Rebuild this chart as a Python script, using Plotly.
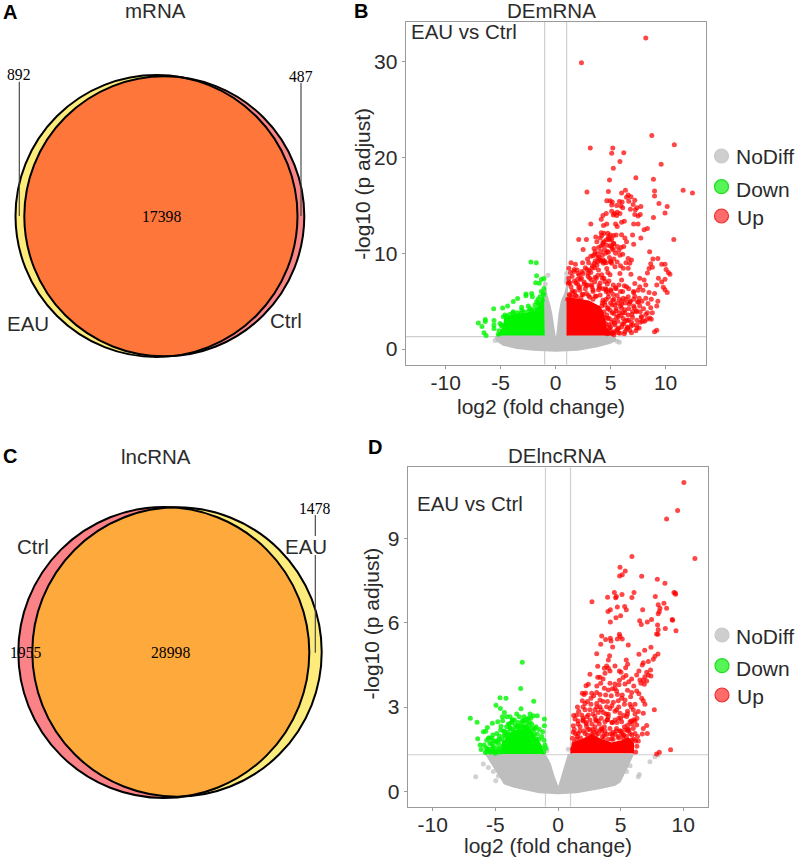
import numpy as np
import plotly.graph_objects as go

W, H = 796, 858

# venn counts
mrna_counts = ["892", "17398", "487"]
lncrna_counts = ["1955", "28998", "1478"]

# panel B, DEmRNA: log2 fold change / -log10 p adjust
b_grey_area_x = [-5.5, -5.3, -1.06, -1.06, -0.95, -0.8, -0.55, -0.37, -0.15, 0.03, 0.18, 0.33, 0.54, 0.85, 1.0, 1.06, 1.06, 5.3, 5.5, 4.9, 3.7, 2.0, 0.0, -2.0, -3.5, -4.76, -5.4]
b_grey_area_y = [1.1, 1.4, 1.4, 5.5, 6.5, 5.6, 4.6, 3.7, 2.0, 0.7, 2.0, 3.7, 5.0, 5.8, 6.5, 6.5, 1.4, 1.4, 0.9, 0.6, 0.24, -0.1, -0.2, -0.1, 0.07, 0.42, 0.9]
b_grey_x = [-0.7, 1.0, 1.0, 5.6, 5.8, 5.2, -5.5, 0.98, -0.95]
b_grey_y = [7.7, 7.4, 7.9, 0.8, 0.7, 1.1, 0.9, 7.0, 6.8]

b_green_area_x = [-5.3, -4.76, -4.61, -3.85, -2.64, -1.88, -1.58, -1.12, -1.06]
b_green_area_y = [1.42, 2.15, 3.2, 3.55, 3.72, 3.9, 4.4, 5.46, 1.42]
b_green_x = [-2.25, -1.76, -1.73, -1.06, -1.3, -1.82, -1.49, -1.06, -1.3, -1.12, -1.43, -2.18, -2.12, -2.7, -2.7, -3.46, -3.85, -4.37, -4.82, -5.64, -3.09, -3.09, -3.85, -2.49, -2.34, -1.88, -1.73, -1.58, -2.03, -4.61, -4.76, -6.4, -6.4, -7.03, -5.61, -6.7, -5.61, -5.61, -5.06, -4.91, -6.52, -6.33, -4.76, -5.21,
             -4.5, -4.2, -3.9, -3.5, -3.2, -2.9, -2.5, -2.2, -1.7, -1.45, -1.2, -4.9, -5.15, -1.1, -1.6]
b_green_y = [9.1, 9.0, 7.66, 7.38, 7.27, 6.93, 6.86, 6.33, 6.0, 5.64, 5.46, 5.81, 5.46, 5.74, 5.57, 5.29, 4.97, 4.49, 4.28, 4.21, 4.35, 4.07, 3.9, 4.49, 4.24, 4.59, 4.94, 4.77, 4.14, 3.55, 3.37, 3.09, 2.88, 2.71, 2.99, 2.36, 2.5, 2.15, 2.67, 2.4, 1.7, 1.42, 1.98, 1.53,
             3.4, 3.6, 3.75, 3.8, 3.7, 3.9, 3.95, 4.0, 4.2, 4.7, 5.1, 2.5, 1.9, 5.8, 5.2]

b_red_area_x = [1.06, 1.06, 2.0, 3.0, 4.0, 4.3, 4.6, 5.2]
b_red_area_y = [1.42, 5.3, 5.2, 5.0, 4.4, 3.8, 2.2, 1.42]
b_red_x = [8.2, 2.35, 8.75, 10.8, 3.15, 5.2, 5.1, 6.2, 5.85, 9.6, 5.25, 7.3, 8.9, 4.9, 2.85, 4.8, 6.0, 6.35, 9.0, 9.0, 11.6, 12.45, 6.6, 6.45, 6.85, 7.2, 6.65, 7.05, 4.65, 4.95, 5.15, 5.1, 5.8, 6.05, 5.95, 6.1, 5.55, 9.4, 10.15, 7.75, 7.4, 7.25, 6.8, 9.95, 8.9, 7.7, 7.5, 7.2, 5.1, 5.35, 5.6, 5.85, 5.55, 5.25, 4.6, 4.3, 4.15, 3.2, 4.35, 4.65, 5.45, 5.6, 6.0, 6.25, 7.1, 7.5, 8.35, 8.05, 4.15, 4.4, 4.2, 4.75, 4.95, 5.25, 5.5, 6.0, 7.0, 3.65, 6.3, 2.1, 2.8, 10.75, 4.8, 5.1, 7.75,
           2.5, 3.5, 4.15, 4.65, 5.25, 4.95, 6.45, 7.1, 5.95, 5.25, 4.25, 3.4, 4.55, 4.9, 5.85, 6.6, 6.9, 6.75, 8.55, 8.85, 9.3, 9.65, 9.95, 8.65, 8.5, 8.8, 10.05, 10.25, 10.4, 8.35, 1.4, 1.8, 3.0, 1.2, 1.65, 1.95, 3.75, 3.9, 4.35, 4.65, 5.1, 5.4, 6.15, 6.6, 4.05, 3.3, 4.2, 4.95, 5.85, 6.85, 7.65, 8.05, 9.35, 9.95, 2.35, 2.25, 1.2, 1.15, 1.4, 2.95, 3.1, 3.55, 4.5, 5.25, 6.0, 6.45, 7.2, 7.65, 8.2, 9.2, 9.65, 9.8, 9.95, 10.15, 9.0, 8.5, 7.95, 7.5, 7.1, 6.6, 6.15, 5.8, 5.25, 4.8, 4.05, 3.4, 2.8, 2.2, 1.75,
           8.4, 9.2, 7.65, 7.1, 8.35, 8.8, 8.55, 7.7, 7.35, 6.9, 6.6, 6.0, 5.4, 4.95, 5.55, 6.15, 5.1, 4.65, 4.5, 6.75, 6.3, 5.85, 5.55, 9.2, 9.0, 4.05, 4.95, 5.25,
           1.3, 1.6, 1.9, 2.2, 2.5, 2.8, 3.1, 3.4, 3.7, 4.0, 4.3, 4.6, 1.2, 1.5, 1.85, 2.15, 2.6, 2.95, 3.25, 3.6, 3.95, 4.25, 4.55, 4.85, 1.35, 1.7, 2.05, 2.4, 2.7, 3.05, 3.35, 3.8, 4.1, 4.4, 4.75, 2.0, 2.45, 2.9, 3.2, 3.55, 3.85, 4.45, 5.0, 3.6, 3.9, 4.3, 4.7, 5.1, 3.75, 4.05, 4.4, 4.8,
           4.45, 4.8, 5.2, 5.6, 6.0, 6.4, 6.8, 7.2, 7.6, 4.6, 5.0, 5.35, 5.75, 6.2, 6.55, 7.0, 7.4, 7.9, 8.3, 4.9, 5.3, 5.7, 6.1, 6.5, 6.95, 7.35, 7.8, 8.2, 8.7, 4.75, 5.15, 5.5, 5.9, 6.3, 6.7, 7.15, 7.55, 4.5, 4.9, 5.3, 5.65, 6.05, 6.45, 6.85, 5.05, 5.45, 5.9, 6.25, 6.65, 7.1,
           1.25, 1.5, 1.8, 2.1, 2.4, 2.7, 3.0, 3.3, 3.6, 3.9, 1.3, 1.7, 2.0, 2.6, 2.9, 3.25, 3.7, 4.05, 4.3, 4.6, 2.5, 2.85, 3.2, 3.55, 3.85, 4.4, 4.7, 5.0, 5.5, 5.75, 6.1,
           3.6, 3.95, 4.3, 4.6, 5.0, 5.3, 5.6, 5.9, 4.1, 4.45, 4.8, 5.15, 5.45, 5.75, 6.1, 6.4, 4.3, 4.6, 4.95, 5.3, 5.6, 3.8, 3.5, 6.2,
           4.5, 4.85, 5.1, 5.4, 5.7, 6.0, 6.25, 6.55, 6.9, 7.3, 7.6, 4.4, 4.75, 5.3, 5.65, 5.95, 6.3, 6.65, 7.0, 7.4, 7.8, 8.1, 4.4, 4.75, 5.15, 5.5, 5.8, 6.3, 6.65, 7.0, 7.35, 7.7, 8.0, 8.65, 4.25, 4.6, 5.0, 5.3, 5.6, 6.0, 6.35, 6.75, 7.1, 7.45, 7.85, 8.2, 8.7, 9.3,
           4.2, 3.4, 2.3, 1.5, 4.5, 4.4, 4.7, 5.3, 1.1]
b_red_y = [32.5, 29.9, 22.3, 21.35, 21.0, 21.0, 20.45, 20.5, 19.6, 19.3, 18.9, 17.9, 17.75, 17.65, 16.4, 16.45, 16.3, 16.6, 16.5, 16.0, 16.6, 16.3, 16.1, 15.85, 15.9, 15.55, 15.45, 15.1, 15.5, 15.5, 15.35, 15.05, 15.4, 15.35, 14.95, 14.75, 15.0, 15.2, 14.9, 14.9, 14.75, 14.55, 14.6, 14.2, 13.75, 14.05, 13.9, 14.05, 14.4, 14.15, 14.3, 14.15, 13.95, 14.0, 14.15, 13.95, 13.55, 13.05, 12.9, 13.05, 13.05, 12.8, 13.25, 13.35, 13.05, 13.05, 12.6, 12.45, 12.15, 12.1, 11.85, 12.1, 11.9, 11.85, 11.9, 11.95, 11.9, 11.7, 11.6, 11.45, 11.45, 11.45, 11.5, 11.5, 11.6,
           10.4, 10.5, 10.75, 10.85, 11.05, 11.4, 11.2, 10.95, 10.6, 10.35, 9.8, 9.75, 10.0, 9.55, 9.8, 9.45, 9.3, 8.95, 10.15, 9.4, 9.45, 8.85, 8.85, 8.9, 8.4, 8.55, 8.3, 8.0, 7.8, 7.95, 9.0, 8.85, 9.0, 8.45, 8.1, 8.25, 8.75, 8.25, 8.95, 8.4, 8.95, 8.6, 8.45, 8.45, 9.3, 8.45, 7.75, 7.75, 7.9, 7.8, 7.4, 7.2, 7.4, 7.3, 7.4, 7.25, 7.4, 6.85, 6.5, 7.9, 7.4, 7.0, 7.05, 6.7, 7.2, 6.5, 6.85, 6.5, 6.7, 6.7, 7.0, 6.45, 6.2, 5.9, 5.8, 5.9, 6.15, 6.15, 5.9, 5.45, 5.3, 5.2, 5.7, 5.8, 5.65, 6.0, 5.8, 6.15, 6.0,
           4.75, 4.5, 4.5, 4.5, 3.8, 3.8, 3.25, 2.8, 2.5, 2.8, 3.55, 4.25, 4.6, 4.05, 3.35, 3.2, 2.8, 3.55, 4.6, 1.95, 1.8, 1.65, 1.95, 1.95, 1.8, 2.3, 1.95, 1.65,
           5.6, 5.9, 5.5, 6.5, 5.7, 6.6, 5.4, 6.2, 5.5, 6.4, 5.1, 6.0, 7.0, 7.6, 6.9, 7.7, 6.8, 7.6, 6.7, 7.5, 6.6, 7.4, 6.3, 7.1, 8.0, 8.3, 7.9, 8.1, 8.5, 8.2, 8.7, 9.1, 9.2, 9.1, 8.0, 7.3, 9.0, 9.4, 9.7, 9.9, 9.5, 9.2, 9.2, 10.2, 10.6, 10.9, 10.2, 10.7, 11.2, 11.6, 11.2, 11.7,
           4.9, 5.4, 5.1, 5.6, 4.7, 5.2, 5.0, 5.5, 5.3, 2.6, 2.3, 2.7, 2.2, 2.6, 2.3, 2.5, 2.2, 2.9, 3.1, 3.2, 3.7, 3.4, 3.8, 3.0, 3.6, 3.9, 3.3, 3.6, 3.1, 4.2, 4.6, 4.0, 4.5, 4.1, 4.7, 4.3, 4.9, 2.0, 2.2, 1.8, 2.1, 2.6, 2.1, 2.4, 6.1, 6.4, 6.0, 6.6, 6.3, 6.0,
           5.7, 6.1, 5.6, 6.4, 5.7, 6.3, 5.6, 6.5, 5.5, 6.2, 6.9, 7.1, 6.8, 7.0, 6.7, 7.2, 7.4, 6.9, 6.3, 6.2, 7.9, 8.3, 8.0, 8.5, 7.7, 7.4, 6.8, 6.2, 6.3, 6.7, 6.0,
           9.2, 9.6, 9.3, 9.0, 9.1, 9.4, 9.1, 8.7, 10.2, 10.4, 10.1, 10.5, 10.0, 10.3, 9.9, 9.0, 11.1, 11.4, 10.8, 11.0, 10.7, 9.9, 8.9, 10.7,
           1.7, 2.5, 1.7, 2.5, 1.7, 2.3, 1.6, 2.2, 1.7, 1.9, 2.2, 2.9, 3.2, 3.0, 2.9, 3.5, 2.9, 3.0, 3.3, 3.0, 3.4, 2.9, 3.9, 4.3, 3.8, 4.2, 3.8, 3.8, 4.2, 3.9, 4.0, 3.9, 4.2, 4.3, 4.8, 5.2, 4.8, 5.2, 4.8, 5.0, 4.8, 4.9, 5.2, 4.9, 5.0, 5.3, 5.2, 5.0,
           4.5, 5.2, 5.3, 5.4, 3.3, 2.4, 1.6, 1.5, 5.2]

# panel D, DElncRNA
d_grey_area_x = [-5.83, -1.04, -0.64, -0.37, 0.03, 0.29, 0.56, 0.82, 0.96, 6.0, 5.61, 4.95, 4.55, 3.5, 1.5, 0.0, -1.5, -3.5, -4.36]
d_grey_area_y = [1.32, 1.32, 0.99, 0.58, 0.1, 0.52, 0.93, 1.29, 1.32, 1.32, 0.94, 0.34, 0.22, 0.12, -0.04, -0.08, -0.04, 0.15, 0.28]
d_grey_x = [7.34, 7.74, 8.0, 6.41, 5.75, 5.48, -6.57, -4.97, -5.96, -5.56, -5.16, -4.76, -0.88, 0.82, 6.5]
d_grey_y = [1.05, 1.23, 1.29, 0.52, 0.91, 0.7, 0.52, 0.37, 0.97, 0.85, 0.7, 0.54, 1.45, 1.5, 0.6]

d_green_area_x = [-4.5, -4.42, -3.83, -3.17, -2.23, -1.84, -1.44, -1.12]
d_green_area_y = [1.33, 1.7, 2.06, 2.18, 2.18, 1.94, 1.7, 1.33]
d_green_x = [-2.85, -2.98, -4.63, -4.15, -1.94, -4.95, -4.6, -2.95, -4.28, -7.0, -6.46, -6.41, -6.22, -6.14, -5.96, -5.77, -5.64, -5.24, -4.81, -4.44, -4.42, -4.55, -4.58, -4.1, -3.83, -3.48, -3.09, -2.71, -2.77, -2.23, -1.97, -1.65, -2.37, -2.18, -3.43, -3.03, -2.71, -2.37, -1.84, -1.22, -1.09, -1.09, -1.65, -1.97, -3.83, -4.23, -4.04, -4.68, -4.89, -5.29, -5.69, -5.43, -5.16, -5.9, -5.69, -5.16, -1.12, -1.04, -0.96,
           -5.5, -5.3, -5.05, -4.85, -4.65, -5.55, -5.2, -4.95, -4.7, -5.75, -5.35, -5.0, -4.75, -3.65, -3.3, -2.9, -2.5, -2.1, -1.75, -3.9, -3.6, -2.6, -4.3, -4.1, -3.7, -3.25, -2.85, -2.45,
           -5.8, -5.6, -5.4, -5.2, -5.0, -4.8, -4.6, -4.45, -5.45, -5.1, -4.75, -4.5, -4.3, -4.2, -4.0, -3.8, -3.55, -3.3, -3.1, -2.85, -2.6, -2.4, -2.1, -1.9, -1.7, -1.5, -1.3, -1.15, -4.35, -3.95, -3.2, -2.55, -3.65, -2.25, -1.5, -1.3]
d_green_y = [4.6, 3.66, 3.33, 3.31, 3.21, 3.06, 2.95, 2.94, 2.81, 2.6, 2.46, 1.87, 1.65, 1.49, 2.12, 2.14, 2.27, 2.42, 2.48, 2.65, 2.51, 2.32, 2.18, 2.65, 2.65, 2.54, 2.65, 2.65, 2.51, 2.75, 2.69, 2.69, 2.6, 2.6, 2.36, 2.32, 2.3, 2.32, 2.24, 2.12, 2.57, 2.33, 2.03, 2.18, 2.24, 2.12, 2.0, 1.97, 2.06, 1.88, 1.82, 1.7, 1.59, 1.65, 1.41, 1.41, 1.82, 1.65, 1.53,
           1.5, 1.7, 1.45, 1.8, 1.5, 1.9, 2.0, 1.75, 1.85, 1.55, 1.4, 1.35, 1.4, 2.5, 2.75, 2.4, 2.45, 2.4, 2.3, 2.4, 2.15, 2.25, 2.0, 2.3, 2.45, 2.3, 2.5, 2.25,
           1.38, 1.5, 1.4, 1.55, 1.4, 1.55, 1.4, 1.6, 1.9, 1.8, 1.7, 1.85, 1.75, 1.95, 2.1, 2.25, 2.2, 2.3, 2.2, 2.25, 2.3, 2.2, 2.25, 2.05, 1.85, 1.85, 1.55, 1.4, 2.15, 2.4, 2.45, 2.55, 2.55, 2.45, 2.2, 1.95]

d_red_area_x = [1.04, 1.15, 1.89, 2.69, 3.49, 4.28, 5.08, 5.61, 6.01, 6.01]
d_red_area_y = [1.35, 1.71, 1.83, 2.0, 1.83, 1.71, 1.79, 1.89, 1.71, 1.35]
d_red_x = [10.05, 9.55, 8.67, 10.93, 5.9, 4.95, 5.37, 5.13, 4.92, 6.68, 7.93, 8.54, 2.71, 3.96, 4.5, 4.66, 4.6, 5.11, 6.07, 5.9, 7.77, 9.26, 9.39, 9.36, 8.0, 8.46, 8.14, 8.67, 8.0, 8.09, 4.74, 5.32, 5.45, 4.18, 3.99, 6.76, 5.0, 4.63, 7.47, 9.12,
           4.18, 6.52, 6.65, 7.13, 9.15, 7.95, 8.0, 7.87, 7.98, 8.57, 9.42, 3.49, 3.8, 4.18, 4.23, 4.9, 4.95, 4.74, 5.13, 5.61, 3.41, 4.36, 7.42, 6.92, 6.46, 7.98, 7.74, 7.61, 3.09, 4.12, 4.02, 5.45, 6.81, 7.21, 6.73, 5.56, 5.4, 4.55, 3.17, 3.88, 3.7, 4.02, 4.15, 4.9, 5.03, 3.75, 6.46, 7.39, 7.08, 7.21, 6.94, 7.42, 6.28, 5.43, 5.88, 2.55, 3.17, 3.35, 6.81, 7.08, 6.54, 6.62, 6.89, 3.41, 4.15, 4.55, 4.87, 5.35, 2.42, 2.24, 3.7, 4.02, 4.55, 4.68, 1.94, 2.08, 2.69, 3.09, 3.35, 3.8, 5.13, 5.88, 6.28, 6.46, 5.8, 6.68, 6.81, 6.94, 1.94, 2.16, 2.63, 3.09, 3.35, 4.42, 4.81, 5.08, 5.75, 6.15, 2.63, 3.35, 3.88, 4.15, 7.69, 2.16, 2.55, 2.95, 3.22, 3.62, 4.68, 4.95, 6.01, 6.41, 6.15, 1.49, 1.89, 2.42, 2.95, 4.02, 5.48, 6.81, 1.36, 2.02, 2.55, 3.22, 3.75, 4.55, 5.08, 5.75, 6.15, 7.08, 6.81, 1.22, 1.76, 2.29, 2.95, 3.49, 4.15, 4.68, 5.35, 6.01, 6.28, 7.13, 6.73, 1.22, 1.62, 2.16, 2.69, 3.22, 3.88, 4.55, 5.08, 5.75, 6.15, 1.15, 1.49, 4.28, 3.62, 5.22, 5.88, 6.41, 6.2, 8.09, 7.87, 8.99,
           1.6, 2.0, 2.4, 3.0, 3.5, 4.0, 4.4, 4.85, 5.3, 5.55, 1.75, 2.25, 2.8, 3.3, 3.95, 4.3, 4.95, 5.55, 5.9, 1.4, 2.7, 3.1, 3.7, 4.35, 4.8, 5.2, 5.65,
           1.15, 1.3, 1.55, 1.8, 2.05, 2.35, 2.55, 2.85, 3.05, 3.4, 3.55, 3.75, 4.0, 4.2, 4.4, 4.65, 4.85, 5.0, 5.25, 5.45, 5.6, 5.9, 6.05, 6.3, 6.2, 6.35, 1.3, 1.6, 2.0, 2.25, 2.7, 3.05, 3.45, 3.7, 3.95, 4.35, 4.7, 5.0, 5.25, 5.55, 5.85, 6.05, 1.25, 1.65, 2.0, 2.3, 2.8, 3.1, 3.45, 3.85, 4.3, 4.55, 4.85, 5.3, 5.55, 5.85, 6.3, 1.55, 2.35, 2.85, 3.6, 3.95, 4.25, 4.75, 5.35, 5.55, 2.2, 3.1, 3.6, 4.35, 4.9, 5.2, 5.65, 6.05]
d_red_y = [11.0, 10.0, 9.7, 8.29, 8.36, 7.98, 7.85, 7.71, 7.67, 7.66, 7.55, 7.41, 6.75, 6.91, 7.08, 6.94, 6.89, 7.01, 7.08, 6.9, 6.94, 7.08, 7.02, 7.06, 6.64, 6.7, 6.52, 6.52, 6.32, 6.4, 6.56, 6.58, 6.47, 6.47, 6.4, 6.47, 6.25, 6.18, 6.12, 6.12,
           6.03, 6.07, 5.94, 6.03, 6.09, 5.92, 5.75, 5.6, 5.59, 5.8, 5.72, 5.53, 5.41, 5.45, 5.35, 5.59, 5.51, 5.42, 5.42, 5.21, 5.24, 5.14, 5.13, 5.02, 4.88, 4.89, 4.81, 4.7, 4.9, 4.83, 4.68, 4.68, 4.58, 4.62, 4.5, 4.52, 4.4, 4.46, 4.45, 4.46, 4.38, 4.38, 4.28, 4.28, 4.24, 4.2, 4.28, 4.32, 4.24, 4.14, 4.08, 4.11, 4.14, 4.12, 4.0, 4.17, 4.06, 4.06, 3.96, 3.93, 3.96, 3.85, 3.81, 3.85, 3.85, 3.82, 3.79, 3.82, 3.81, 3.76, 3.67, 3.61, 3.67, 3.57, 3.49, 3.45, 3.49, 3.52, 3.45, 3.43, 3.43, 3.52, 3.57, 3.47, 3.37, 3.31, 3.22, 3.1, 3.22, 3.13, 3.31, 3.13, 3.25, 3.17, 3.22, 3.31, 3.1, 3.1, 3.1, 3.01, 3.01, 2.95, 2.9, 2.9, 2.9, 2.9, 2.81, 2.81, 2.9, 2.78, 2.9, 2.84, 2.75, 2.72, 2.72, 2.72, 2.66, 2.74, 2.66, 2.78, 2.57, 2.54, 2.54, 2.5, 2.48, 2.54, 2.48, 2.48, 2.5, 2.34, 2.24, 2.33, 2.3, 2.3, 2.3, 2.24, 2.24, 2.24, 2.18, 2.24, 2.36, 2.06, 2.04, 2.1, 2.06, 2.06, 2.03, 2.06, 2.03, 2.03, 2.06, 2.06, 2.06, 1.89, 1.86, 1.86, 1.86, 1.89, 1.83, 1.79, 1.79, 1.39, 1.33, 1.48,
           2.5, 2.6, 2.2, 2.55, 2.15, 2.65, 2.1, 2.6, 2.3, 2.75, 2.15, 2.4, 2.2, 2.4, 2.55, 2.45, 2.15, 2.2, 2.4, 2.05, 1.95, 2.15, 2.0, 2.0, 1.95, 2.0, 2.2,
           1.5, 1.75, 1.95, 1.9, 2.15, 2.0, 2.2, 2.1, 2.0, 2.2, 1.95, 2.15, 1.85, 2.05, 1.85, 2.15, 1.9, 2.15, 2.0, 1.95, 2.15, 2.0, 1.85, 1.6, 1.4, 1.95, 2.2, 2.4, 2.5, 2.45, 2.4, 2.5, 2.6, 2.3, 2.55, 2.45, 2.45, 2.6, 2.7, 2.35, 2.5, 2.55, 2.7, 2.85, 3.0, 2.65, 2.75, 3.0, 2.9, 2.75, 3.05, 2.85, 3.0, 3.1, 2.85, 3.0, 2.6, 3.0, 3.2, 3.4, 3.2, 3.2, 3.4, 3.45, 3.25, 3.6, 3.5, 3.75, 4.0, 3.65, 3.95, 4.05, 3.9, 3.75]

LINE_GREY = "#CFCFCF"
BOX_GREY = "#9A9A9A"
TEXT = "#2B2B2B"
GREY = "#BEBEBE"
GREEN = "#00F500"
RED = "#FF0000"
SANS = "Liberation Sans, Arial, sans-serif"
SERIF = "Liberation Serif, Times New Roman, serif"


def px(x):
    return x / W


def py(y):
    return 1 - y / H


def label(x, y, text, size=20.5, family=SANS, color=TEXT, anchor="center", bold=False, angle=0):
    return dict(xref="paper", yref="paper", x=px(x), y=py(y), text=f"<b>{text}</b>" if bold else text,
                showarrow=False, xanchor=anchor, yanchor="middle", align="left", textangle=angle,
                font=dict(size=size, family=family, color=color))


def circle(cx, cy, r, fill="rgba(0,0,0,0)", line="black", width=2):
    return dict(type="circle", xref="paper", yref="paper", x0=px(cx - r), x1=px(cx + r),
                y0=py(cy + r), y1=py(cy - r), fillcolor=fill, line=dict(color=line, width=width))


def lens_path(c1, c2, fill):
    # overlap of the two venn circles as a polygon, plotly paths have no arc command
    t = np.linspace(0, 2 * np.pi, 721)
    x1 = c1[0] + c1[2] * np.cos(t)
    y1 = c1[1] + c1[2] * np.sin(t)
    keep = (x1 - c2[0]) ** 2 + (y1 - c2[1]) ** 2 <= c2[2] ** 2
    x2 = c2[0] + c2[2] * np.cos(t)
    y2 = c2[1] + c2[2] * np.sin(t)
    keep2 = (x2 - c1[0]) ** 2 + (y2 - c1[1]) ** 2 <= c1[2] ** 2
    xs = np.concatenate([x1[keep], x2[keep2]])
    ys = np.concatenate([y1[keep], y2[keep2]])
    order = np.argsort(np.arctan2(ys - (c1[1] + c2[1]) / 2, xs - (c1[0] + c2[0]) / 2))
    pts = [f"{px(a):.5f},{py(b):.5f}" for a, b in zip(xs[order], ys[order])]
    return dict(type="path", xref="paper", yref="paper", path="M" + " L".join(pts) + " Z",
                fillcolor=fill, line=dict(width=0))


def leader(x, y0, y1):
    return dict(type="line", xref="paper", yref="paper", x0=px(x), x1=px(x), y0=py(y0), y1=py(y1),
                line=dict(color="#3A3A3A", width=1.1))


def add_volcano(fig, xa, ya, grey_area, grey, green_area, green, red_area, red):
    for area, col in ((grey_area, GREY), (green_area, GREEN), (red_area, RED)):
        fig.add_trace(go.Scatter(x=area[0], y=area[1], mode="lines", fill="toself", fillcolor=col,
                                 line=dict(color=col, width=1.5), xaxis=xa, yaxis=ya, showlegend=False,
                                 hoverinfo="skip"))
    for pts, col, name in ((grey, "rgba(190,190,190,0.7)", "NoDiff"), (green, "rgba(0,245,0,0.8)", "Down"),
                           (red, "rgba(255,0,0,0.72)", "Up")):
        fig.add_trace(go.Scatter(x=pts[0], y=pts[1], mode="markers", name=name, xaxis=xa, yaxis=ya,
                                 marker=dict(size=5, color=col), showlegend=False))


def axis(domain, rng, ticks, anchor, standoff=0):
    return dict(domain=domain, range=rng, tickmode="array", tickvals=ticks, ticktext=[str(t) for t in ticks],
                anchor=anchor, showgrid=False, zeroline=False, showline=True, mirror=True,
                linecolor=BOX_GREY, linewidth=1.3, ticks="outside", ticklen=3, tickcolor=BOX_GREY, tickwidth=1,
                ticklabelstandoff=standoff, tickfont=dict(size=21, family=SANS, color=TEXT))


def guides(xa, ya, x_rng, y_rng, cut):
    out = []
    for x in (-1, 1):
        out.append(dict(type="line", xref=xa, yref=ya, x0=x, x1=x, y0=y_rng[0], y1=y_rng[1], layer="below",
                        line=dict(color=LINE_GREY, width=1.2)))
    out.append(dict(type="line", xref=xa, yref=ya, x0=x_rng[0], x1=x_rng[1], y0=cut, y1=cut, layer="below",
                    line=dict(color=LINE_GREY, width=1.2)))
    return out


def legend_marks(x, ys):
    cols = (("rgba(190,190,190,0.75)", "#C8C8C8"), ("rgba(30,240,30,0.75)", "#22DD22"), ("rgba(255,70,70,0.8)", "#EE3030"))
    return [circle(x, y, 7, fill=f, line=l, width=1.2) for y, (f, l) in zip(ys, cols)]


fig = go.Figure()
add_volcano(fig, "x", "y", (b_grey_area_x, b_grey_area_y), (b_grey_x, b_grey_y),
            (b_green_area_x, b_green_area_y), (b_green_x, b_green_y),
            (b_red_area_x, b_red_area_y), (b_red_x, b_red_y))
add_volcano(fig, "x2", "y2", (d_grey_area_x, d_grey_area_y), (d_grey_x, d_grey_y),
            (d_green_area_x, d_green_area_y), (d_green_x, d_green_y),
            (d_red_area_x, d_red_area_y), (d_red_x, d_red_y))

b_xr, b_yr = [-13.64, 13.68], [-1.64, 34.2]
d_xr, d_yr = [-12.0, 12.0], [-0.55, 11.54]

# venn circles in page pixels: x, y, r
a_eau, a_ctrl = (156.5, 216, 141), (164.3, 216.3, 140)
c_ctrl, c_eau = (163.8, 652.5, 145.5), (177, 652, 144.7)

shapes = guides("x", "y", b_xr, b_yr, 1.3) + guides("x2", "y2", d_xr, d_yr, 1.3)
shapes += [circle(*a_eau, fill="#FDEB7C", line="rgba(0,0,0,0)"), circle(*a_ctrl, fill="#F98686", line="rgba(0,0,0,0)"),
           lens_path(a_eau, a_ctrl, "#FE763A"), circle(*a_eau), circle(*a_ctrl),
           leader(19.3, 81.7, 216), leader(301, 82.7, 216)]
shapes += [circle(*c_ctrl, fill="#FB8388", line="rgba(0,0,0,0)"), circle(*c_eau, fill="#FDEB7C", line="rgba(0,0,0,0)"),
           lens_path(c_ctrl, c_eau, "#FEA93B"), circle(*c_ctrl), circle(*c_eau),
           leader(315.3, 515, 536), leader(315.3, 555, 652.7)]
shapes += legend_marks(721.5, [156, 186.7, 216]) + legend_marks(722, [635, 665.7, 695])

annotations = [
    label(10, 12, "A", 20, color="black", bold=True), label(361, 11, "B", 20, color="black", bold=True),
    label(10, 456, "C", 20, color="black", bold=True), label(375, 447, "D", 20, color="black", bold=True),
    label(155, 11, "mRNA"), label(551.7, 10, "DEmRNA"), label(156, 456, "lncRNA"), label(557, 455, "DElncRNA"),
    label(19.3, 75, mrna_counts[0], 15.7, SERIF, "black"), label(161, 216.7, mrna_counts[1], 15.7, SERIF, "black"),
    label(301, 76, mrna_counts[2], 15.7, SERIF, "black"),
    label(25.7, 652.7, lncrna_counts[0], 15.7, SERIF, "black"), label(170.7, 652.7, lncrna_counts[1], 15.7, SERIF, "black"),
    label(315.3, 508, lncrna_counts[2], 15.7, SERIF, "black"),
    label(27.7, 323, "EAU"), label(286, 320, "Ctrl"), label(33, 546.7, "Ctrl"), label(306, 546.7, "EAU"),
    label(409, 32, "EAU vs Ctrl", anchor="left"), label(415.3, 503.3, "EAU vs Ctrl", anchor="left"),
    label(734, 157, "NoDiff", 21, anchor="left"), label(734, 189, "Down", 21, anchor="left"), label(735, 218, "Up", 21, anchor="left"),
    label(734, 636.7, "NoDiff", 21, anchor="left"), label(734, 668, "Down", 21, anchor="left"), label(735, 696.7, "Up", 21, anchor="left"),
    label(541, 406, "log2 (fold change)", 21), label(548, 845, "log2 (fold change)", 21),
    label(361.7, 184, "-log10 (p adjust)", 21, angle=-90), label(371.7, 623.7, "-log10 (p adjust)", 21, angle=-90),
]

fig.update_layout(
    width=W, height=H, autosize=False, margin=dict(l=0, r=0, t=0, b=0),
    paper_bgcolor="white", plot_bgcolor="white", showlegend=False,
    xaxis=axis([px(405.7), px(706)], b_xr, [-10, -5, 0, 5, 10], "y", -4),
    yaxis=axis([py(364.7), py(21.7)], b_yr, [0, 10, 20, 30], "x"),
    xaxis2=axis([px(407.7), px(708.3)], d_xr, [-10, -5, 0, 5, 10], "y2", -4),
    yaxis2=axis([py(806.7), py(467.3)], d_yr, [0, 3, 6, 9], "x2"),
    shapes=shapes, annotations=annotations,
)

fig.write_html("out.html", config=dict(displayModeBar=False), post_script="document.body.style.margin='0';")
